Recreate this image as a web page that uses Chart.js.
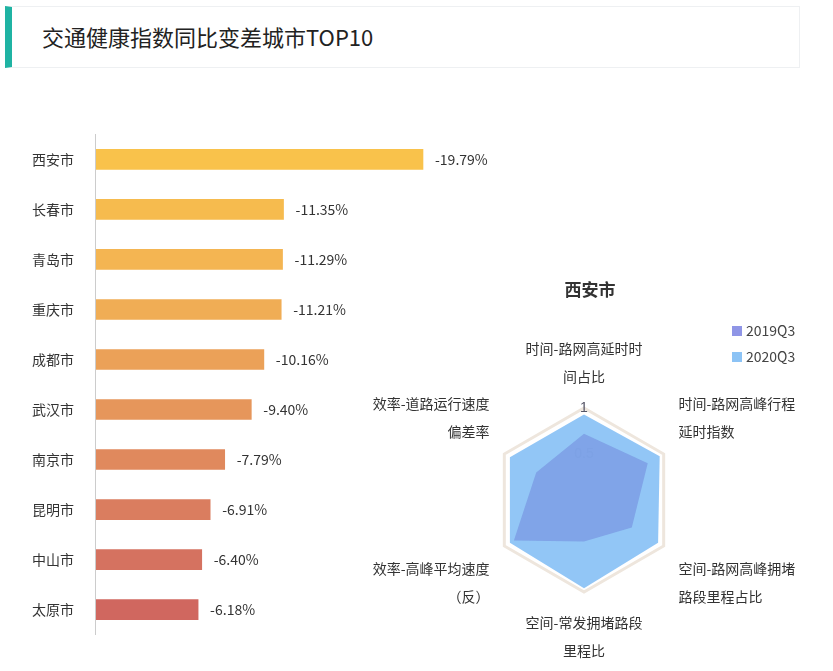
<!DOCTYPE html>
<html>
<head>
<meta charset="utf-8">
<script src="https://cdn.jsdelivr.net/npm/chart.js@4"></script>
<style>
  body { margin: 0; background: #fff; font-family: "Noto Sans CJK SC", sans-serif; }
  .title { position: absolute; left: 5px; top: 6px; width: 795px; height: 62px; border: 1px solid #eef0f2; border-left: 7px solid #1fb3a3; box-sizing: border-box; }
  .title span { position: absolute; left: 30px; top: 13px; font-size: 22px; color: #222; }
  .rtitle { position: absolute; left: 540px; width: 100px; top: 276px; text-align: center; font-size: 17px; font-weight: bold; color: #333; }
  .leg { position: absolute; left: 732px; font-size: 14px; color: #444; }
  .leg i { display: inline-block; width: 10px; height: 10px; margin-right: 4px; }
</style>
</head>
<body>
<div class="title"><span>交通健康指数同比变差城市TOP10</span></div>
<div style="position:absolute;left:0;top:112px;width:833px;height:545px"><canvas id="bars"></canvas></div>
<div class="rtitle">西安市</div>
<div class="leg" style="top:320px"><i style="background:#8f95e6"></i>2019Q3</div>
<div class="leg" style="top:346px"><i style="background:#8cc3f5"></i>2020Q3</div>
<div style="position:absolute;left:345px;top:335px;width:480px;height:330px"><canvas id="radar"></canvas></div>
<script>
const cities = ["西安市", "长春市", "青岛市", "重庆市", "成都市", "武汉市", "南京市", "昆明市", "中山市", "太原市"];
const changes = [19.79, 11.35, 11.29, 11.21, 10.16, 9.40, 7.79, 6.91, 6.40, 6.18];
const barColors = ["#f9c24b", "#f6bb4e", "#f4b552", "#f0ad55", "#eba158", "#e6965b", "#e0895d", "#da7d5f", "#d57260", "#d0675f"];

const radarAxes = [["时间-路网高延时时", "间占比"], ["时间-路网高峰行程", "延时指数"], ["空间-路网高峰拥堵", "路段里程占比"], ["空间-常发拥堵路段", "里程比"], ["效率-高峰平均速度", "（反）"], ["效率-道路运行速度", "偏差率"]];
const q2019 = [0.72, 0.8, 0.6, 0.45, 0.88, 0.6];
const q2020 = [0.93, 0.95, 0.93, 0.96, 0.93, 0.93];

const labelPlugin = {
  id: "barLabels",
  afterDatasetsDraw(chart) {
    const ctx = chart.ctx;
    const meta = chart.getDatasetMeta(0);
    ctx.save();
    ctx.font = "14px 'Noto Sans CJK SC'";
    ctx.fillStyle = "#333";
    ctx.textBaseline = "middle";
    meta.data.forEach((bar, i) => {
      ctx.fillText("-" + changes[i].toFixed(2) + "%", bar.x + 12, bar.y);
    });
    ctx.restore();
  }
};

new Chart(document.getElementById("bars"), {
  type: "bar",
  data: { labels: cities, datasets: [{ data: changes, backgroundColor: barColors, barThickness: 20 }] },
  options: {
    indexAxis: "y",
    responsive: true,
    maintainAspectRatio: false,
    animation: false,
    layout: { padding: { left: 18, right: 10, top: 0, bottom: 0 } },
    plugins: { legend: { display: false }, tooltip: { enabled: false } },
    scales: {
      x: { min: 0, max: 44, display: false },
      y: {
        grid: { display: false },
        border: { color: "#ccc" },
        ticks: { color: "#333", font: { size: 14, family: "Noto Sans CJK SC" }, padding: 14 }
      }
    }
  },
  plugins: [labelPlugin]
});

new Chart(document.getElementById("radar"), {
  type: "radar",
  data: {
    labels: radarAxes,
    datasets: [
      { label: "2019Q3", data: q2019, backgroundColor: "rgba(120,150,225,0.7)", borderWidth: 0, pointRadius: 0, order: 0 },
      { label: "2020Q3", data: q2020, backgroundColor: "rgba(140,195,245,0.95)", borderWidth: 0, pointRadius: 0, order: 1 }
    ]
  },
  options: {
    responsive: true,
    maintainAspectRatio: false,
    animation: false,
    plugins: { legend: { display: false }, tooltip: { enabled: false } },
    scales: {
      r: {
        min: 0, max: 1,
        ticks: { stepSize: 0.5, color: "#556", backdropColor: "rgba(0,0,0,0)", font: { size: 14 },
          callback: v => v === 1 ? "1" : String(v) },
        grid: { color: ["transparent", "transparent", "#eee6dd"], lineWidth: 3 },
        angleLines: { display: false },
        pointLabels: { color: "#333", font: { size: 14, family: "Noto Sans CJK SC", lineHeight: 2 }, padding: 8 }
      }
    }
  }
});
</script>
</body>
</html>
